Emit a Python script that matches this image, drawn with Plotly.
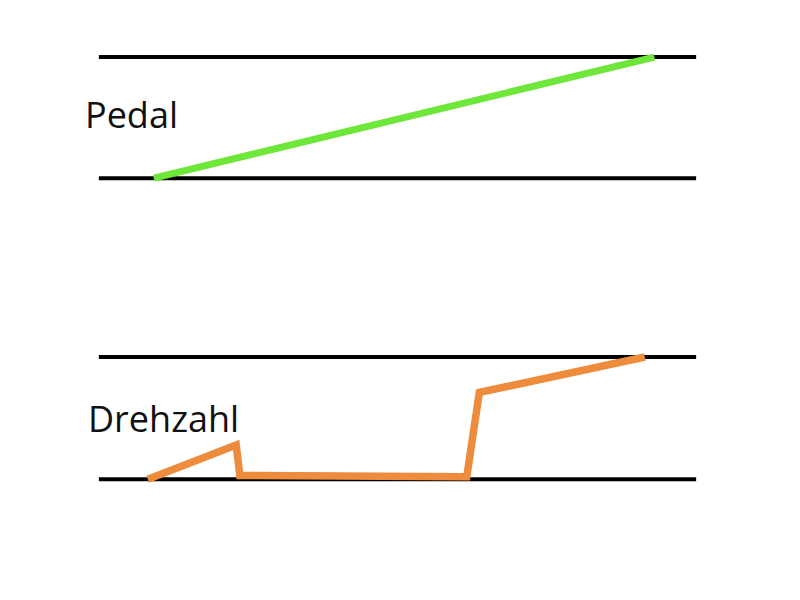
import plotly.graph_objects as go
from plotly.subplots import make_subplots

# time axis: 0..100 spans the black reference lines
ref_x = [0, 100]
ref_low = [0, 0]
ref_high = [1, 1]

pedal_x = [9.2, 93.0]
pedal_y = [0.0, 1.0]

drehzahl_x = [8.2, 23.0, 23.6, 42.0, 61.6, 63.7, 91.4]
drehzahl_y = [0.0, 0.28, 0.03, 0.03, 0.02, 0.71, 1.0]

labels = ["Pedal", "Drehzahl"]

fig = make_subplots(rows=2, cols=1)

for row in (1, 2):
    fig.add_trace(go.Scatter(x=ref_x, y=ref_high, mode="lines",
                             line=dict(color="black", width=4)), row=row, col=1)
    fig.add_trace(go.Scatter(x=ref_x, y=ref_low, mode="lines",
                             line=dict(color="black", width=4)), row=row, col=1)

fig.add_trace(go.Scatter(x=pedal_x, y=pedal_y, mode="lines",
                         line=dict(color="#6ee63a", width=7)), row=1, col=1)
fig.add_trace(go.Scatter(x=drehzahl_x, y=drehzahl_y, mode="lines",
                         line=dict(color="#ec8c3c", width=7.5)), row=2, col=1)

ax = dict(visible=False, showgrid=False, zeroline=False, fixedrange=True)
fig.update_xaxes(range=[-5, 105], **ax)
fig.update_yaxes(range=[-0.2, 1.2], **ax)
fig.update_layout(
    xaxis=dict(domain=[0, 1]), xaxis2=dict(domain=[0, 1]),
    yaxis=dict(domain=[0.676, 0.9586]),
    yaxis2=dict(domain=[0.174, 0.459]),
)

fig.add_annotation(text=labels[0], xref="paper", yref="paper", x=0.021, y=0.822,
                   xanchor="left", yanchor="middle", showarrow=False,
                   font=dict(family="Open Sans", size=36, color="#111"))
fig.add_annotation(text=labels[1], xref="paper", yref="paper", x=0.026, y=0.316,
                   xanchor="left", yanchor="middle", showarrow=False,
                   font=dict(family="Open Sans", size=36, color="#111"))

fig.update_layout(
    width=800, height=600, showlegend=False,
    margin=dict(l=61, r=82, t=0, b=0),
    paper_bgcolor="white", plot_bgcolor="white",
)

fig.write_html("out.html")
